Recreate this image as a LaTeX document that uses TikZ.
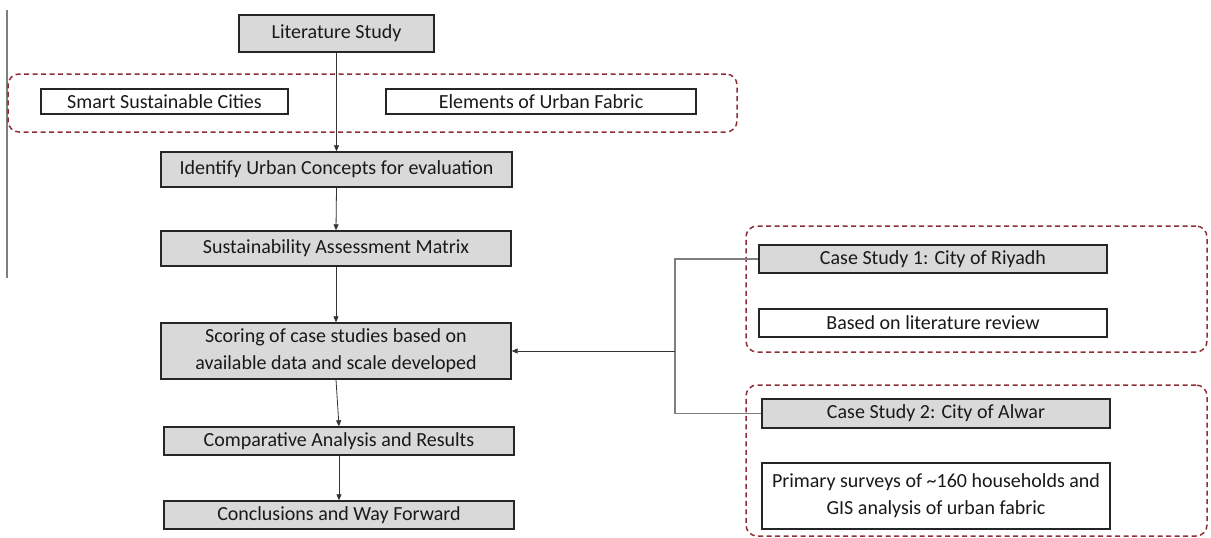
\documentclass[tikz,border=0pt]{standalone}
\usepackage{fontspec}
\setmainfont{Carlito}
\usetikzlibrary{arrows.meta}
\definecolor{boxgray}{HTML}{D9D9D9}
\definecolor{dashred}{HTML}{8E2F38}
\definecolor{linegray}{HTML}{7F7F7F}
\tikzset{
  graybox/.style={draw=black!85, line width=1.4pt, fill=boxgray, inner sep=0pt, align=center,
    font=\fontsize{20}{27}\selectfont, text=black!90},
  whitebox/.style={graybox, fill=white},
  dashbox/.style={draw=dashred, line width=1.5pt, dash pattern=on 5pt off 3.5pt, rounded corners=11pt, inner sep=0pt},
  flow/.style={draw=black!80, line width=0.8pt, -{Triangle[length=6pt,width=5pt]}},
  conn/.style={draw=linegray, line width=1.2pt}
}
\begin{document}
\begin{tikzpicture}[x=1pt,y=-1pt]
\useasboundingbox (0,0) rectangle (1211,538);
\draw[linegray, line width=2pt] (7,10) coordinate (vt) -- (7,278) coordinate (vb);
% dashed groups
\node[dashbox, minimum width=729pt, minimum height=58pt] (g1) at (372.5,103) {};
\node[dashbox, minimum width=461pt, minimum height=126pt] (g2) at (976.5,289) {};
\node[dashbox, minimum width=461pt, minimum height=151pt] (g3) at (976.5,460.5) {};
% main flow
\node[graybox, minimum width=195pt, minimum height=37pt] (lit) at (336.5,33.5) {Literature Study};
\node[whitebox, minimum width=247pt, minimum height=25pt] (ssc) at (164.5,101.5) {Smart Sustainable Cities};
\node[whitebox, minimum width=310pt, minimum height=25pt] (euf) at (541,101.5) {Elements of Urban Fabric};
\node[graybox, minimum width=351pt, minimum height=35pt] (ident) at (336.5,169.5) {Identify Urban Concepts for evaluation};
\node[graybox, minimum width=350pt, minimum height=35pt] (sam) at (336,248.5) {Sustainability Assessment Matrix};
\node[graybox, minimum width=350pt, minimum height=56pt] (score) at (336,351) {Scoring of case studies based on\\available data and scale developed};
\node[graybox, minimum width=350pt, minimum height=28pt] (comp) at (339,441) {Comparative Analysis and Results};
\node[graybox, minimum width=350pt, minimum height=28pt] (concl) at (339,515) {Conclusions and Way Forward};
% case studies
\node[graybox, minimum width=348pt, minimum height=28pt] (cs1) at (933,259) {Case Study 1: City of Riyadh};
\node[whitebox, minimum width=348pt, minimum height=28pt] (blr) at (933,323) {Based on literature review};
\node[graybox, minimum width=348pt, minimum height=29pt] (cs2) at (936,413.5) {Case Study 2: City of Alwar};
\node[whitebox, minimum width=348pt, minimum height=66pt] (prim) at (936,496) {Primary surveys of \textasciitilde160 households and\\GIS analysis of urban fabric};
% connectors
\draw[flow] (lit.south) -- (ident.north);
\draw[flow] (ident.south) -- (sam.north);
\draw[flow] (sam.south) -- (score.north);
\draw[flow] (score.south) -- (comp.north);
\draw[flow] (comp.south) -- (concl.north);
\coordinate (j) at (675,351);
\draw[conn] (cs1.west) -| (j) |- (cs2.west);
\draw[flow] (j) -- (score.east);
\end{tikzpicture}
\end{document}
